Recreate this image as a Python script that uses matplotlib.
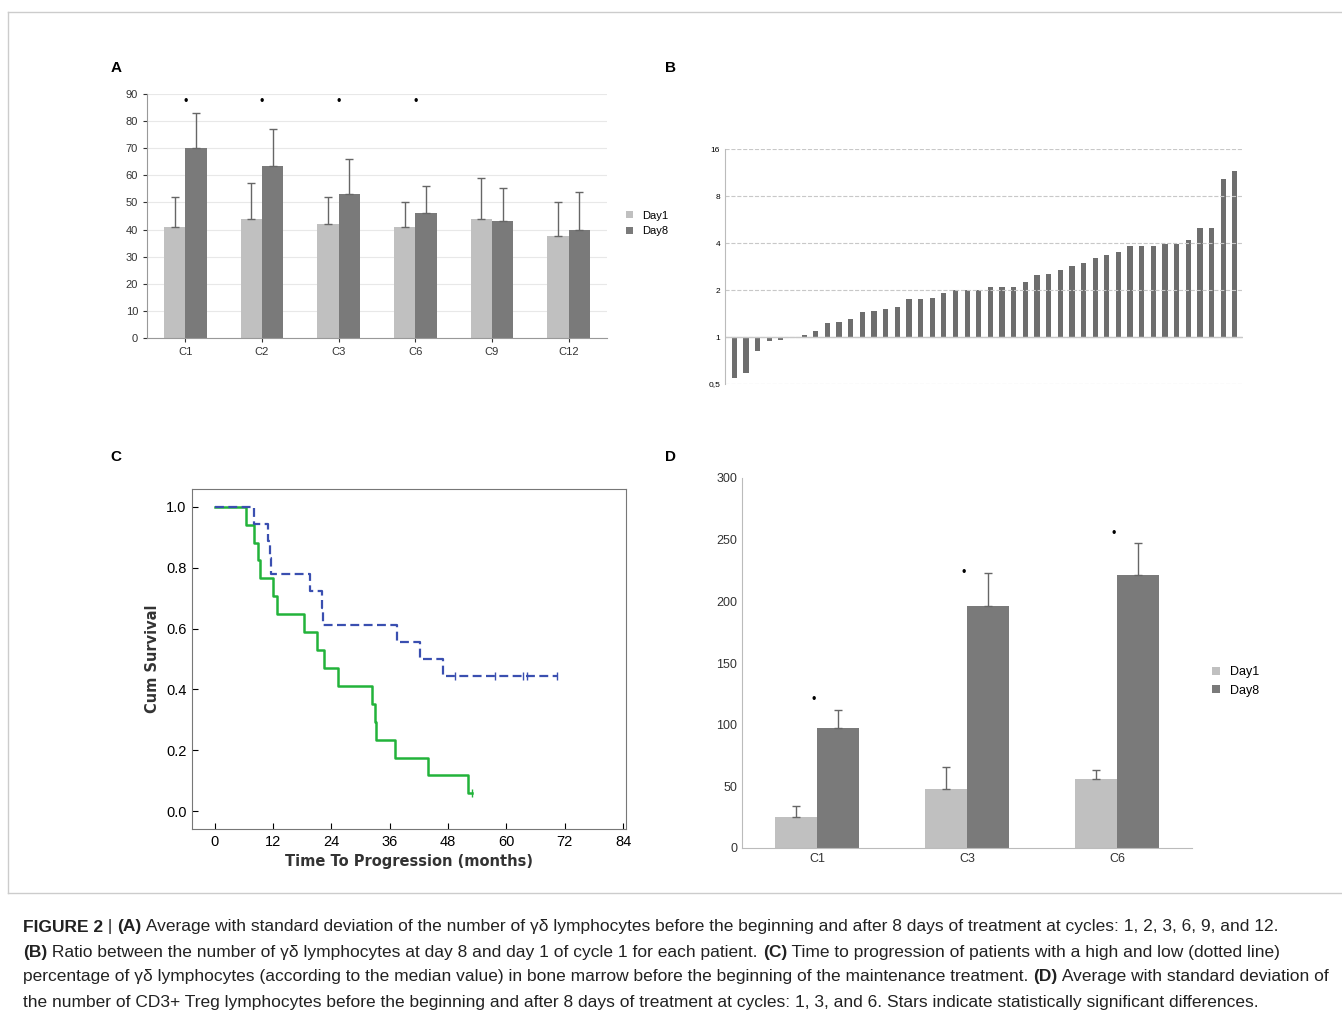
import numpy as np
import matplotlib
matplotlib.use("Agg")
import matplotlib.pyplot as plt

plt.rcParams['font.family'] = ['Liberation Sans', 'DejaVu Sans']

# panel A
cycles_a = ['C1', 'C2', 'C3', 'C6', 'C9', 'C12']
day1_a = [41, 44, 42, 41, 44, 37.5]
day1_a_sd = [11, 13, 10, 9, 15, 12.5]
day8_a = [70, 63.5, 53, 46, 43, 40]
day8_a_sd = [13, 13.5, 13, 10, 12.5, 14]
stars_a = [0, 1, 2, 3]

# panel B
ratio_b = [0.55, 0.59, 0.81, 0.94, 0.95, 1.0, 1.03, 1.1, 1.23, 1.24, 1.31, 1.45,
           1.46, 1.52, 1.55, 1.74, 1.76, 1.78, 1.92, 1.99, 1.99, 1.99, 2.09, 2.09,
           2.09, 2.26, 2.5, 2.55, 2.7, 2.86, 2.96, 3.2, 3.36, 3.48, 3.84, 3.84,
           3.84, 3.97, 3.97, 4.16, 4.97, 5.0, 10.3, 11.5]

# panel C (Kaplan-Meier steps)
high_t = [0, 6.5, 8.1, 8.9, 9.3, 12.0, 12.8, 18.3, 21.1, 22.5, 25.3, 32.4, 33.0, 33.2, 37.1, 43.9, 52.0, 53.0]
high_s = [1.0, 0.941, 0.882, 0.824, 0.765, 0.706, 0.647, 0.588, 0.529, 0.471, 0.412, 0.353, 0.294, 0.235, 0.176, 0.118, 0.059, 0.059]
low_t = [0, 8.0, 11.0, 11.3, 11.6, 19.6, 22.0, 22.3, 37.5, 42.2, 47.0, 70.3]
low_s = [1.0, 0.944, 0.889, 0.833, 0.778, 0.722, 0.667, 0.611, 0.556, 0.5, 0.444, 0.444]
low_cens = [49.4, 57.6, 63.5, 64.2, 70.3]
high_cens = [53.0]

# panel D
cycles_d = ['C1', 'C3', 'C6']
day1_d = [25, 48, 56]
day1_d_sd = [9, 18, 7]
day8_d = [97, 196, 221]
day8_d_sd = [15, 27, 26]
stars_d = [120, 223, 255]

light = '#c0c0c0'
dark = '#7a7a7a'

fig = plt.figure(figsize=(13.42, 10.18), dpi=100)

def box(l, t, r, b):
    W, H = 1342, 1018
    return [l / W, 1 - b / H, (r - l) / W, (b - t) / H]

# ---- A
ax = fig.add_axes(box(147, 94, 607, 338))
x = np.arange(len(cycles_a))
w = 0.28
ax.bar(x - w / 2, day1_a, w, color=light, label='Day1')
ax.bar(x + w / 2, day8_a, w, color=dark, label='Day8')
ax.errorbar(x - w / 2, day1_a, yerr=[np.zeros(6), day1_a_sd], fmt='none', ecolor='#666', elinewidth=1, capsize=3)
ax.errorbar(x + w / 2, day8_a, yerr=[np.zeros(6), day8_a_sd], fmt='none', ecolor='#666', elinewidth=1, capsize=3)
for i in stars_a:
    ax.text(i, 87, '•', ha='center', va='center', fontsize=9)
ax.set_ylim(0, 90)
ax.set_xlim(-0.5, 5.5)
ax.set_yticks(range(0, 91, 10))
ax.set_xticks(x)
ax.set_xticklabels(cycles_a)
ax.yaxis.grid(True, color='#e8e8e8')
ax.set_axisbelow(True)
for s in ['top', 'right']:
    ax.spines[s].set_visible(False)
ax.spines['left'].set_color('#999')
ax.spines['bottom'].set_color('#999')
ax.tick_params(labelsize=8, length=3, colors='#333')
ax.legend(loc='center left', bbox_to_anchor=(1.02, 0.47), frameon=False, fontsize=8, handlelength=0.6, handleheight=0.6)

# ---- B
ax = fig.add_axes(box(725, 149, 1243, 384))
xb = np.arange(len(ratio_b))
ax.bar(xb, np.array(ratio_b) - 1, 0.45, bottom=1, color='#6e6e6e')
ax.set_yscale('log', base=2)
ax.set_ylim(0.5, 16)
ax.set_xlim(-0.8, len(ratio_b) - 0.3)
ax.set_yticks([0.5, 1, 2, 4, 8, 16])
ax.set_yticklabels(['0,5', '1', '2', '4', '8', '16'])
ax.minorticks_off()
ax.set_xticks([])
ax.yaxis.grid(True, linestyle='--', color='#c8c8c8')
ax.axhline(1, color='#c8c8c8', lw=1)
for s in ['top', 'right', 'bottom']:
    ax.spines[s].set_visible(False)
ax.spines['left'].set_color('#bbb')
ax.tick_params(labelsize=6, length=0)

# ---- C
ax = fig.add_axes(box(192, 489, 626, 829))
ax.step(high_t, high_s, where='post', color='#22b33a', lw=1.8)
ax.step(low_t, low_s, where='post', color='#3a4fb0', lw=1.6, ls=(0, (4, 2)))
for c in low_cens:
    ax.plot(c, 0.444, marker='|', color='#3a4fb0', ms=6)
for c in high_cens:
    ax.plot(c, 0.059, marker='|', color='#22b33a', ms=6)
ax.set_xlim(-4.7, 84.6)
ax.set_ylim(-0.059, 1.059)
ax.set_xticks(range(0, 85, 12))
ax.set_yticks([0.0, 0.2, 0.4, 0.6, 0.8, 1.0])
ax.set_yticklabels(['0.0', '0.2', '0.4', '0.6', '0.8', '1.0'])
ax.tick_params(labelsize=10.5, direction='in', length=4, pad=4)
ax.set_xlabel('Time To Progression (months)', fontsize=10.5, family=['DejaVu Sans'], weight='bold', color='#333', labelpad=4)
ax.set_ylabel('Cum Survival', fontsize=10.5, family=['DejaVu Sans'], weight='bold', color='#333')
for s in ax.spines.values():
    s.set_color('#777')

# ---- D
ax = fig.add_axes(box(742, 478, 1192, 848))
xd = np.arange(len(cycles_d))
w = 0.28
ax.bar(xd - w / 2, day1_d, w, color=light, label='Day1')
ax.bar(xd + w / 2, day8_d, w, color=dark, label='Day8')
ax.errorbar(xd - w / 2, day1_d, yerr=[np.zeros(3), day1_d_sd], fmt='none', ecolor='#666', elinewidth=1, capsize=3)
ax.errorbar(xd + w / 2, day8_d, yerr=[np.zeros(3), day8_d_sd], fmt='none', ecolor='#666', elinewidth=1, capsize=3)
for i, s in enumerate(stars_d):
    ax.text(i - 0.02, s, '•', ha='center', va='center', fontsize=9)
ax.set_ylim(0, 300)
ax.set_xlim(-0.5, 2.5)
ax.set_yticks(range(0, 301, 50))
ax.set_xticks(xd)
ax.set_xticklabels(cycles_d)
for s in ['top', 'right']:
    ax.spines[s].set_visible(False)
ax.spines['left'].set_color('#bbb')
ax.spines['bottom'].set_color('#bbb')
ax.tick_params(labelsize=9, length=0, colors='#333')
ax.legend(loc='center left', bbox_to_anchor=(1.02, 0.45), frameon=False, fontsize=9, handlelength=0.6, handleheight=0.6)

# panel letters
for lab, px, py in [('A', 116, 68), ('B', 670, 68), ('C', 116, 457), ('D', 670, 457)]:
    fig.text(px / 1342, 1 - py / 1018, lab, fontsize=11, weight='bold', ha='center', va='center')

# frame lines
fig.add_artist(plt.Line2D([0.006, 1], [1 - 12 / 1018] * 2, color='#cccccc', lw=1))
fig.add_artist(plt.Line2D([0.006, 0.006], [1 - 12 / 1018, 1 - 893 / 1018], color='#cccccc', lw=1))
fig.add_artist(plt.Line2D([0.006, 1], [1 - 893 / 1018] * 2, color='#cccccc', lw=1))

# caption with bold pieces
caption = [
    [('FIGURE 2', True), (' | ', False), ('(A)', True), (' Average with standard deviation of the number of γδ lymphocytes before the beginning and after 8 days of treatment at cycles: 1, 2, 3, 6, 9, and 12.', False)],
    [('(B)', True), (' Ratio between the number of γδ lymphocytes at day 8 and day 1 of cycle 1 for each patient. ', False), ('(C)', True), (' Time to progression of patients with a high and low (dotted line)', False)],
    [('percentage of γδ lymphocytes (according to the median value) in bone marrow before the beginning of the maintenance treatment. ', False), ('(D)', True), (' Average with standard deviation of', False)],
    [('the number of CD3+ Treg lymphocytes before the beginning and after 8 days of treatment at cycles: 1, 3, and 6. Stars indicate statistically significant differences.', False)],
]
fig.canvas.draw()
r = fig.canvas.get_renderer()
for k, line in enumerate(caption):
    xpx = 23
    ypx = 927 + 25 * k
    for txt, bold in line:
        t = fig.text(xpx / 1342, 1 - ypx / 1018, txt, fontsize=12.55, weight='bold' if bold else 'normal',
                     va='center', ha='left', color='#222')
        xpx += t.get_window_extent(r).width

fig.savefig('out.png', dpi=100)
